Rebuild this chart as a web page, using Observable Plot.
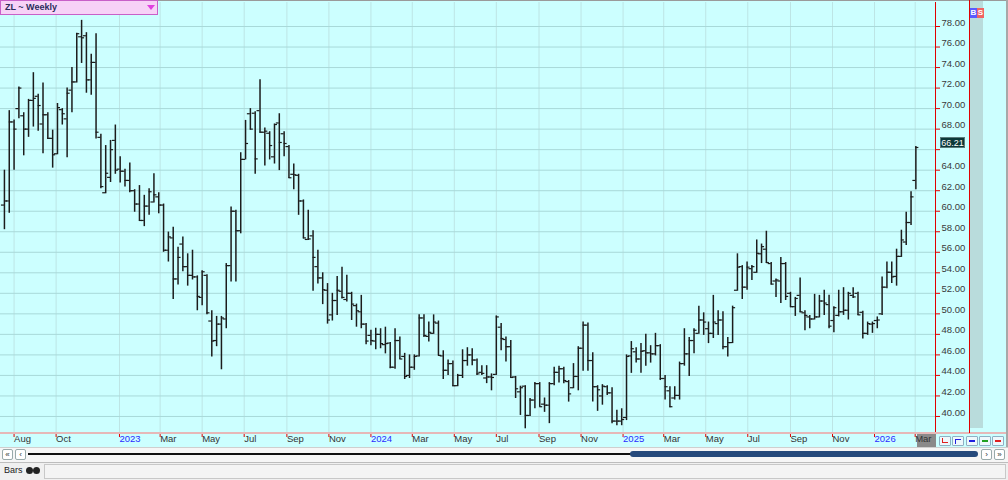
<!DOCTYPE html>
<html><head><meta charset="utf-8">
<script src="https://cdn.jsdelivr.net/npm/d3@7"></script>
<script src="https://cdn.jsdelivr.net/npm/@observablehq/plot@0.6"></script>
<style>
body{margin:0;background:#fff;font-family:"Liberation Sans",Arial,sans-serif;}
#wrap{position:relative;width:1008px;height:480px;overflow:hidden;background:#fff;}
.abs{position:absolute;box-sizing:border-box;}
.btn{position:absolute;box-sizing:border-box;border:1px solid #9aa;background:#fff;font-size:8px;line-height:9px;text-align:center;color:#333;border-radius:2px;}
.sb{position:absolute;box-sizing:border-box;width:12px;height:10px;top:436px;border:1px solid #8fb0c4;background:#eef8fc;border-radius:1px;}
</style></head><body>
<div id="wrap">
  <div class="abs" style="left:0;top:0;width:1008px;height:447px;background:#ccffff;z-index:0"></div>
  <div class="abs" style="left:970px;top:0;width:13px;height:428px;background:#b9dcdc;z-index:1"></div>
  <div class="abs" style="left:917px;top:434px;width:19px;height:13px;background:#8a8a8a;z-index:1"></div>
  <div id="chart" class="abs" style="left:0;top:0;z-index:2"></div>
  <!-- chrome -->
  <div class="abs" style="left:0;top:0;width:1008px;height:1px;background:#9a9a9a;z-index:3"></div>
  <div class="abs" style="left:1006px;top:0;width:2px;height:447px;background:#a8a8a8;z-index:3"></div>
  <div class="abs" style="left:0;top:432px;width:1006px;height:2px;background:#e6b8b8;z-index:3"></div>
  <div class="abs" style="left:969px;top:0;width:1px;height:433px;background:#e00000;z-index:3"></div>
  <div class="abs" style="left:970px;top:8px;width:7px;height:10px;background:#5a5aff;color:#fff;font:bold 8px 'Liberation Sans',Arial;line-height:10px;text-align:center;z-index:3">B</div>
  <div class="abs" style="left:977px;top:8px;width:7px;height:10px;background:#f06464;color:#fff;font:bold 8px 'Liberation Sans',Arial;line-height:10px;text-align:center;z-index:3">S</div>
  <div class="abs" style="left:0;top:0;width:158px;height:15px;background:#f7d2f7;border:1px solid #c860c8;z-index:3;">
    <span style="position:absolute;left:4px;top:1px;font:bold 9px 'Liberation Sans',Arial;color:#2c2c5c;">ZL ~ Weekly</span>
    <span style="position:absolute;left:146px;top:4px;width:0;height:0;border-left:4px solid transparent;border-right:4px solid transparent;border-top:5px solid #e040e0;"></span>
  </div>
  <div id="lastbox" class="abs" style="left:940px;width:25px;height:11px;background:#0b3838;color:#fff;font:9px 'Liberation Sans',Arial;line-height:10px;text-align:center;z-index:3;border:1px solid #5a7a7a;"></div>
  <!-- small buttons -->
  <div class="sb" style="left:939px;z-index:3"><div style="position:absolute;left:2px;top:1px;width:1px;height:5px;background:#e02020"></div><div style="position:absolute;left:2px;top:5px;width:6px;height:1px;background:#e02020"></div></div>
  <div class="sb" style="left:952px;z-index:3"><div style="position:absolute;left:2px;top:2px;width:6px;height:1px;background:#2020e0"></div><div style="position:absolute;left:2px;top:2px;width:1px;height:5px;background:#2020e0"></div></div>
  <div class="sb" style="left:966px;z-index:3"><div style="position:absolute;left:2px;top:3px;width:6px;height:2px;background:#2020e0"></div></div>
  <div class="sb" style="left:979px;z-index:3"><div style="position:absolute;left:2px;top:3px;width:6px;height:2px;background:#20a020"></div></div>
  <div class="sb" style="left:992px;z-index:3"><div style="position:absolute;left:2px;top:3px;width:6px;height:2px;background:#e02020"></div></div>
  <!-- scroll row -->
  <div class="abs" style="left:0;top:447px;width:1008px;height:15px;background:#f6f6f6;border-top:1px solid #cfcfcf;"></div>
  <div class="btn" style="left:2px;top:449px;width:11px;height:11px;">«</div>
  <div class="btn" style="left:15px;top:449px;width:11px;height:11px;">‹</div>
  <div class="abs" style="left:28px;top:453px;width:604px;height:2px;background:#111;"></div>
  <div class="abs" style="left:630px;top:451px;width:348px;height:6px;background:#264a7c;border-radius:3px;"></div>
  <div class="btn" style="left:981px;top:449px;width:11px;height:11px;">›</div>
  <div class="btn" style="left:994px;top:449px;width:11px;height:11px;">»</div>
  <!-- bottom row -->
  <div class="abs" style="left:0;top:462px;width:1008px;height:18px;background:#f0f0f0;border-top:1px solid #bdbdbd;"></div>
  <div class="abs" style="left:44px;top:464px;width:962px;height:15px;border:1px solid #c8c8c8;background:#f4f4f4;"></div>
  <div class="abs" style="left:4px;top:465px;font:9px 'Liberation Sans',Arial;color:#222;">Bars</div>
  <div class="abs" style="left:26px;top:467px;width:7px;height:7px;border-radius:50%;background:#222;"></div>
  <div class="abs" style="left:33px;top:467px;width:7px;height:7px;border-radius:50%;background:#222;"></div>
</div>
<script>
// ---- data ----
const startDate = "2022-07-18"; // first weekly bar
const opens = [60.6,61.0,68.7,70.0,69.3,68.0,70.8,71.2,68.5,69.4,67.1,65.6,69.9,69.0,71.8,72.6,77.0,77.1,72.8,74.5,
67.2,61.8,63.3,66.9,64.1,63.9,63.0,62.0,60.7,59.1,60.5,60.9,61.4,60.6,56.2,57.4,53.4,56.8,54.6,53.75,
53.6,51.6,53.75,49.3,47.4,49.0,49.5,54.7,60.0,58.1,65.05,69.5,69.55,69.8,67.7,67.6,65.3,68.6,67.55,66.3,
63.6,63.5,61.0,57.25,57.6,54.6,53.5,52.3,49.9,51.3,52.2,51.4,52.0,50.8,50.2,49.0,47.9,47.35,48.0,47.0,
47.15,44.8,47.4,45.85,44.0,44.8,45.9,49.6,47.8,48.1,49.1,45.9,44.5,45.15,43.0,44.0,45.45,46.0,45.5,44.3,
43.75,43.85,44.1,48.7,47.5,46.8,43.85,42.4,42.95,40.1,41.6,43.2,41.2,41.1,43.2,44.3,44.65,43.4,42.8,43.9,
46.65,48.9,45.45,42.9,42.0,42.9,42.3,39.55,39.55,39.9,45.9,46.3,45.6,46.4,46.2,46.1,46.9,43.7,42.5,41.8,
42.05,45.15,46.1,47.4,48.1,49.4,48.55,48.1,49.05,49.4,46.8,47.2,52.3,54.6,52.6,54.4,54.05,55.85,56.3,54.9,
53.2,53.2,54.9,52.0,50.7,51.8,50.1,49.7,49.5,49.7,51.25,50.9,49.35,49.85,50.2,50.35,51.8,52.0,50.15,48.1,
49.0,49.35,50.0,52.6,54.05,53.65,55.6,57.0,58.9,63.0];
const highs = [64.0,69.8,68.9,72.1,69.6,70.9,73.5,71.4,72.5,69.6,67.9,70.5,70.0,72.0,74.0,77.35,78.6,77.4,75.3,77.3,
67.5,66.4,66.9,68.4,65.3,64.1,64.7,62.1,62.5,61.55,62.2,63.65,61.8,60.7,57.97,58.45,56.5,57.5,55.85,56.2,
53.7,54.2,53.8,50.3,49.75,49.75,54.9,60.4,60.1,65.7,68.85,70.0,69.7,72.8,68.1,67.75,68.5,69.5,67.75,66.4,
64.6,63.6,61.1,60.1,58.1,56.2,54.0,52.95,52.0,53.65,54.55,53.75,52.1,50.95,51.8,49.05,48.4,48.6,48.55,48.7,
47.2,48.55,47.75,46.15,46.0,46.0,49.9,49.9,49.2,49.9,49.3,46.4,45.5,45.4,44.1,46.5,46.7,46.6,45.6,44.95,
44.95,44.15,49.8,49.05,47.75,47.4,43.9,42.95,43.0,41.75,43.3,43.3,41.8,43.3,44.8,44.9,44.8,43.5,45.15,46.8,
49.2,49.1,46.2,43.0,43.1,43.0,42.8,40.6,40.75,46.0,47.3,46.7,47.1,48.0,46.9,48.1,47.0,44.0,42.9,42.9,
45.3,48.55,47.7,48.55,50.75,50.1,49.2,51.8,50.3,50.2,47.7,50.75,55.85,54.7,55.05,54.7,57.2,56.8,58.05,55.0,
53.4,55.5,55.0,52.1,51.6,53.5,50.3,49.85,51.9,51.8,52.3,51.8,50.7,52.3,52.55,52.1,52.55,52.1,50.25,49.2,
49.2,49.7,53.6,55.05,55.05,56.3,58.15,59.9,61.9,66.3];
const lows = [58.2,59.8,64.0,69.0,65.4,67.2,68.2,67.8,65.6,67.0,64.2,65.5,68.4,65.2,69.6,72.5,74.4,71.5,71.3,67.05,
62.2,61.7,62.8,63.6,62.75,62.35,61.8,59.9,59.0,58.5,59.6,60.8,59.75,56.0,55.05,51.4,52.8,54.1,52.7,53.3,
50.3,50.8,49.9,45.8,46.8,44.55,48.55,53.1,53.1,57.8,65.0,67.9,63.6,67.6,64.4,65.0,64.6,63.96,65.3,63.2,
62.1,59.6,57.3,57.15,52.2,52.9,50.9,49.0,49.3,49.85,51.45,51.15,49.35,48.7,48.55,47.0,46.9,46.5,46.6,46.1,
44.65,44.6,45.55,43.6,43.7,44.5,45.8,47.7,47.25,48.0,45.9,43.6,44.0,42.9,42.9,43.7,44.9,44.95,44.0,44.0,
43.2,42.5,44.0,46.4,45.3,43.7,41.75,40.1,38.8,40.0,40.75,40.9,40.4,39.3,43.0,43.25,43.2,41.4,42.7,42.5,
44.4,44.4,41.4,40.5,41.1,42.05,39.3,39.1,39.1,39.6,44.2,45.2,44.2,44.9,45.2,45.9,43.5,41.6,40.85,41.6,
41.6,44.9,43.9,46.1,48.0,47.9,47.1,47.6,47.9,46.5,45.8,47.1,52.2,51.4,52.3,53.25,53.95,54.9,54.9,52.8,
51.6,51.0,51.3,50.6,49.75,50.1,48.35,48.55,49.4,49.6,49.85,48.55,48.15,49.7,49.85,49.4,51.5,49.85,47.55,47.9,
48.1,48.55,49.85,52.45,52.95,52.7,55.5,56.65,58.6,62.1];
const closes = [61.0,68.7,68.0,72.0,68.0,70.8,71.0,70.3,69.4,67.1,65.5,70.1,69.5,71.5,72.6,77.3,76.9,72.8,74.5,67.7,
62.4,63.7,66.0,64.0,63.9,63.0,62.0,60.7,59.1,60.5,61.9,61.6,60.6,56.2,57.5,53.4,55.5,54.6,53.75,53.6,
51.7,54.1,50.1,47.35,49.0,49.6,54.7,60.0,58.1,65.05,66.6,68.0,65.1,67.7,67.8,66.4,68.45,66.7,66.6,63.26,
63.55,61.0,57.4,57.3,55.5,53.5,52.35,49.4,51.3,52.3,51.6,52.0,50.95,50.3,49.0,47.35,47.4,48.0,47.1,47.1,
44.8,47.4,45.6,43.9,44.8,45.85,49.6,47.9,48.2,49.2,45.95,44.5,45.15,43.0,44.0,45.45,46.0,45.5,44.15,44.2,
43.85,43.8,49.7,47.6,46.8,43.8,42.7,42.8,40.1,41.6,43.2,40.95,41.1,43.2,44.3,44.65,43.5,42.2,43.9,46.65,
48.9,45.45,42.9,42.6,42.95,42.3,39.55,39.55,39.7,45.85,46.6,45.6,46.35,46.2,46.1,46.9,43.7,42.9,40.95,42.05,
45.15,46.1,47.4,48.4,49.4,49.2,48.1,49.2,49.4,46.8,47.2,50.6,54.55,52.6,54.55,54.6,55.9,56.55,55.0,52.9,
53.3,54.9,51.7,50.7,51.5,50.2,49.85,49.5,49.7,51.25,51.05,48.8,50.6,50.2,50.35,52.0,51.65,49.9,48.1,49.05,
49.05,49.4,52.6,54.05,53.6,55.6,57.2,58.9,61.4,66.21];
const lastPrice = 66.21;
const yTicks = [40,42,44,46,48,50,52,54,56,58,60,62,64,66,68,70,72,74,76,78];
const xTickDates = ["2022-08-01","2022-10-01","2023-01-01","2023-03-01","2023-05-01","2023-07-01","2023-09-01","2023-11-01",
"2024-01-01","2024-03-01","2024-05-01","2024-07-01","2024-09-01","2024-11-01","2025-01-01","2025-03-01","2025-05-01",
"2025-07-01","2025-09-01","2025-11-01","2026-01-01","2026-03-01"];
const xTickLabels = ["Aug","Oct","2023","Mar","May","Jul","Sep","Nov","2024","Mar","May","Jul","Sep","Nov","2025","Mar","May","Jul","Sep","Nov","2026","Mar"];

// ---- build ----
const start = new Date(startDate + "T00:00:00Z");
const bars = opens.map((o, i) => ({date: d3.utcDay.offset(start, 7 * i), open: o, high: highs[i], low: lows[i], close: closes[i]}));
const ticks = xTickDates.map((d, i) => ({date: new Date(d + "T00:00:00Z"), label: xTickLabels[i], year: /^\d{4}$/.test(xTickLabels[i])}));
const xDomain = [new Date("2022-07-12T07:00:00Z"), new Date("2026-03-30T12:00:00Z")];
const barColor = "#1c1c1c";
// the last-price tag hides the tick label it sits on, as in the original
const yLabelTicks = yTicks.filter(v => Math.abs(v - lastPrice) > 1);

const chart = Plot.plot({
  width: 1008, height: 447,
  marginLeft: 0, marginRight: 73, marginTop: 2, marginBottom: 14,
  style: {background: "transparent", fontFamily: "'Liberation Sans', Arial, sans-serif", fontSize: "9px", overflow: "visible"},
  x: {type: "utc", domain: xDomain},
  y: {domain: [38.34, 80.34]},
  marks: [
    Plot.ruleX(ticks, {x: "date", stroke: "#bde5e5", strokeWidth: 1}),
    Plot.ruleY(yTicks, {stroke: "#a8d9d9", strokeWidth: 1}),
    Plot.ruleX([xDomain[1]], {stroke: "#e00000", y1: 38.34, y2: 80.34}),
    Plot.axisY(yTicks, {anchor: "right", tickSize: 4, stroke: "#e00000", fill: "none", label: null}),
    Plot.axisY(yLabelTicks, {anchor: "right", tickSize: 0, tickPadding: 6, fill: "#3a3a3a", dy: -4, fontSize: 9.5, tickFormat: d => d.toFixed(2), label: null}),
    Plot.axisX(ticks.map(t => t.date), {anchor: "bottom", tickSize: 4, stroke: "#e00000", fill: "none", label: null}),
    Plot.text(ticks.filter(t => !t.year), {x: "date", text: "label", frameAnchor: "bottom", dy: 8, textAnchor: "start", fill: "#333", fontSize: 9.5}),
    Plot.text(ticks.filter(t => t.year), {x: "date", text: "label", frameAnchor: "bottom", dy: 8, textAnchor: "start", fill: "#2a2aff", fontSize: 9.5}),
    Plot.ruleX(bars, {x: "date", y1: "low", y2: "high", stroke: barColor, strokeWidth: 1.5}),
    Plot.ruleY(bars, {y: "open", x1: "date", x2: "date", insetLeft: -3, stroke: barColor, strokeWidth: 1.2}),
    Plot.ruleY(bars, {y: "close", x1: "date", x2: "date", insetRight: -3, stroke: barColor, strokeWidth: 1.2})
  ]
});
document.getElementById("chart").appendChild(chart);
const yPix = chart.scale("y").apply(lastPrice);
const lb = document.getElementById("lastbox");
lb.style.top = (yPix - 10) + "px";
lb.textContent = lastPrice.toFixed(2);
</script>
</body></html>
